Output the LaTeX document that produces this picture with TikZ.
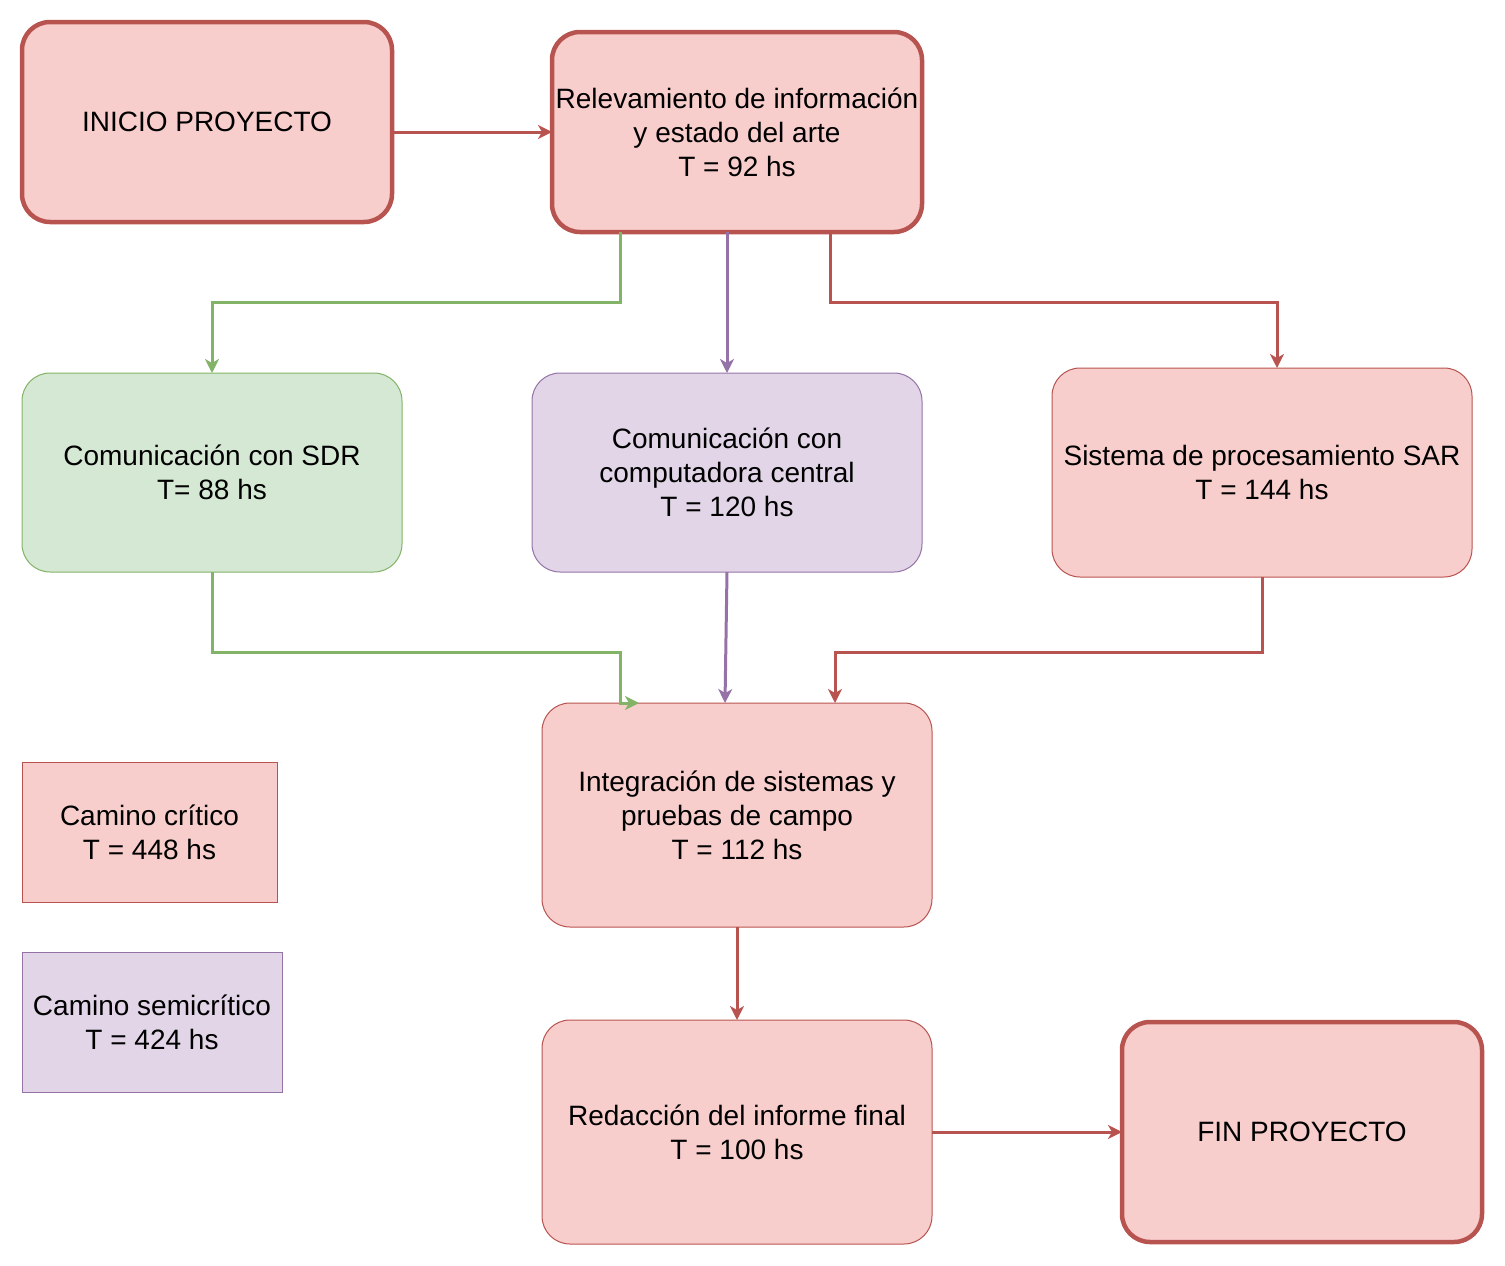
\documentclass[tikz,border=0pt]{standalone}
\usepackage{fontspec}
\setmainfont{Liberation Sans}
\usetikzlibrary{arrows.meta}
\definecolor{redS}{HTML}{B85450}
\definecolor{redF}{HTML}{F8CECC}
\definecolor{greenS}{HTML}{82B366}
\definecolor{greenF}{HTML}{D5E8D4}
\definecolor{purpS}{HTML}{9673A6}
\definecolor{purpF}{HTML}{E1D5E7}
\begin{document}
\begin{tikzpicture}[x=1pt,y=-1pt,
  every node/.style={font=\fontsize{28}{34}\selectfont, align=center, inner sep=0pt, outer sep=0pt},
  redbox/.style={draw=redS, fill=redF, rounded corners=28pt, line width=1pt},
  thickbox/.style={redbox, line width=4.5pt},
  greenbox/.style={draw=greenS, fill=greenF, rounded corners=28pt, line width=1pt},
  purpbox/.style={draw=purpS, fill=purpF, rounded corners=28pt, line width=1pt},
  legred/.style={draw=redS, fill=redF, line width=1pt},
  legpurp/.style={draw=purpS, fill=purpF, line width=1pt},
  tip/.style={-{Stealth[length=14pt,width=14pt,inset=4pt]}},
  rarrow/.style={draw=redS, line width=3pt, tip},
  garrow/.style={draw=greenS, line width=3pt, tip},
  parrow/.style={draw=purpS, line width=3pt, tip}]
\useasboundingbox (0,0) rectangle (1505,1266);

\node[thickbox, minimum width=370pt, minimum height=200pt] (inicio) at (207,122) {INICIO PROYECTO};
\node[thickbox, minimum width=370pt, minimum height=200pt] (relev) at (737,132) {Relevamiento de información\\y estado del arte\\T = 92 hs};
\node[greenbox, minimum width=380pt, minimum height=199pt] (sdr) at (212,472.5) {Comunicación con SDR\\T= 88 hs};
\node[purpbox, minimum width=390pt, minimum height=199pt] (comp) at (727,472.5) {Comunicación con\\computadora central\\T = 120 hs};
\node[redbox, minimum width=420pt, minimum height=209pt] (sar) at (1262,472.5) {Sistema de procesamiento SAR\\T = 144 hs};
\node[redbox, minimum width=390pt, minimum height=224pt] (integ) at (737,815) {Integración de sistemas y\\pruebas de campo\\T = 112 hs};
\node[redbox, minimum width=390pt, minimum height=224pt] (redac) at (737,1132) {Redacción del informe final\\T = 100 hs};
\node[thickbox, minimum width=360pt, minimum height=220pt] (fin) at (1302,1132) {FIN PROYECTO};
\node[legred, minimum width=255pt, minimum height=140pt] (leg1) at (149.5,832) {Camino crítico\\T = 448 hs};
\node[legpurp, minimum width=260pt, minimum height=140pt] (leg2) at (152,1022) {Camino semicrítico\\T = 424 hs};

\draw[rarrow] (relev.west -| inicio.east) -- (relev.west);
\draw[garrow] ([xshift=-117pt]relev.south) -- ++(0,70) -| (sdr.north);
\draw[parrow] ([xshift=-10pt]relev.south) -- (comp.north);
\draw[rarrow] ([xshift=93pt]relev.south) -- ++(0,70) -| ([xshift=15pt]sar.north);
\draw[garrow] (sdr.south) -- ++(0,80) -| ([xshift=-117pt]integ.north) -- ([xshift=-98pt]integ.north);
\draw[parrow] (comp.south) -- ([xshift=-12pt]integ.north);
\draw[rarrow] (sar.south) -- ++(0,75) -| ([xshift=98pt]integ.north);
\draw[rarrow] (integ.south) -- (redac.north);
\draw[rarrow] (redac.east) -- (fin.west);
\end{tikzpicture}
\end{document}
